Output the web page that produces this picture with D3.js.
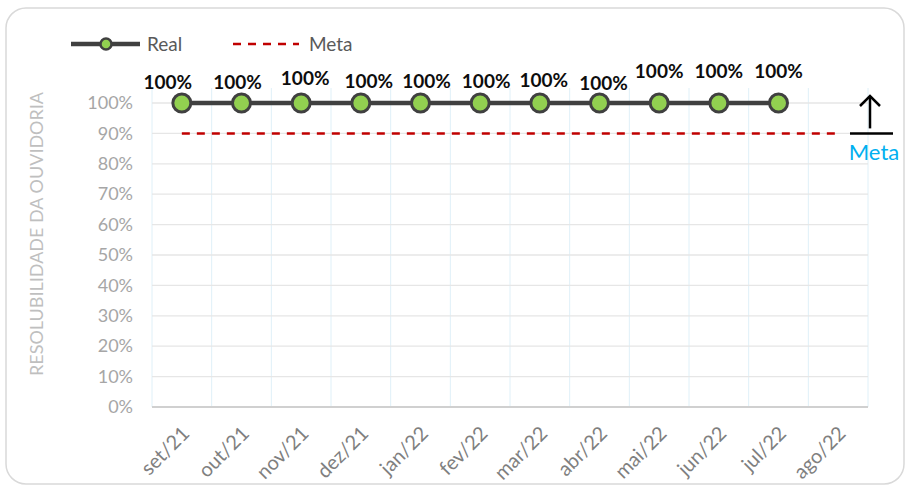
<!DOCTYPE html>
<html><head><meta charset="utf-8">
<script src="https://cdn.jsdelivr.net/npm/d3@7"></script>
<style>body{margin:0;background:#fff}svg{display:block}</style>
</head><body>
<script>
const categories = ["set/21","out/21","nov/21","dez/21","jan/22","fev/22","mar/22","abr/22","mai/22","jun/22","jul/22","ago/22"];
const realValues = [1,1,1,1,1,1,1,1,1,1,1,null];
const metaValues = [0.9,0.9,0.9,0.9,0.9,0.9,0.9,0.9,0.9,0.9,0.9,0.9];
const yTicks = [0,0.1,0.2,0.3,0.4,0.5,0.6,0.7,0.8,0.9,1.0];
const labelDx = [-14,-4,4,8,6,6,4,4,0,0,0];
const labelDy = [0,0,-4,-1,-1,-1,-2,1,-11,-11,-11];

const W=908,H=489;
const svg=d3.select("body").append("svg").attr("width",W).attr("height",H);
const font="Lato, 'Open Sans', sans-serif";
svg.append("rect").attr("x",6).attr("y",8).attr("width",898).attr("height",476).attr("rx",20)
  .attr("fill","#fff").attr("stroke","#d9d9d9").attr("stroke-width",1.5);

const x=d3.scaleBand().domain(categories).range([152,868]);
const y=d3.scaleLinear().domain([0,1]).range([407,103]);
const cx=d=>x(d)+x.bandwidth()/2;

// vertical gridlines
const g=svg.append("g");
d3.range(categories.length+1).forEach(i=>{
  const xx=152+i*x.bandwidth();
  g.append("line").attr("x1",xx).attr("x2",xx).attr("y1",88).attr("y2",407)
   .attr("stroke","#dff0f8").attr("stroke-width",1);
});
// horizontal gridlines
yTicks.forEach(t=>{
  g.append("line").attr("x1",152).attr("x2",868).attr("y1",y(t)).attr("y2",y(t))
   .attr("stroke",t===0?"#d0d0d0":"#e6e6e6").attr("stroke-width",t===0?2:1.3);
});

// y axis labels
const yAxis=d3.axisLeft(y).tickValues(yTicks).tickFormat(d3.format(".0%")).tickSize(0).tickPadding(0);
const ya=svg.append("g").attr("transform","translate(133,0)").call(yAxis);
ya.select(".domain").remove();
ya.selectAll("text").attr("font-family",font).attr("font-size",18).attr("fill","#a6a6a6");

// x axis labels
const xAxis=d3.axisBottom(x).tickSize(0).tickPadding(0);
const xa=svg.append("g").call(xAxis);
xa.select(".domain").remove();
xa.selectAll(".tick").attr("transform",d=>`translate(${cx(d)-1},425)`);
xa.selectAll("text").attr("font-family",font).attr("font-size",20).attr("fill","#7f7f7f")
  .attr("text-anchor","end").attr("dy","0.7em").attr("transform","rotate(-45)");

// y title
svg.append("text").attr("transform","translate(43,234) rotate(-90)").attr("text-anchor","middle")
  .attr("font-family",font).attr("font-size",18).attr("fill","#bfbfbf").text("RESOLUBILIDADE DA OUVIDORIA");

// Meta line
const metaLine=d3.line().x((d,i)=>cx(categories[i])).y(d=>y(d));
svg.append("path").datum(metaValues).attr("d",metaLine).attr("fill","none")
  .attr("stroke","#c00000").attr("stroke-width",2.5).attr("stroke-dasharray","8,7");

// Real line
const realData=realValues.map((v,i)=>({c:categories[i],v})).filter(d=>d.v!=null);
const realLine=d3.line().x(d=>cx(d.c)).y(d=>y(d.v));
svg.append("path").datum(realData).attr("d",realLine).attr("fill","none")
  .attr("stroke","#404040").attr("stroke-width",4.5);
svg.selectAll(".pt").data(realData).enter().append("circle")
  .attr("cx",d=>cx(d.c)).attr("cy",d=>y(d.v)).attr("r",9)
  .attr("fill","#92d050").attr("stroke","#404040").attr("stroke-width",3);
svg.selectAll(".lbl").data(realData).enter().append("text")
  .attr("x",(d,i)=>cx(d.c)+labelDx[i]).attr("y",(d,i)=>y(d.v)-14+labelDy[i])
  .attr("text-anchor","middle").attr("font-family",font).attr("font-weight","bold")
  .attr("font-size",19).attr("fill","#0d0d0d").text(d=>d3.format(".0%")(d.v));

// Meta annotation: bar + arrow
const ax=870, my=y(0.9);
svg.append("line").attr("x1",850).attr("x2",893).attr("y1",my).attr("y2",my).attr("stroke","#000").attr("stroke-width",2.5);
svg.append("line").attr("x1",ax).attr("x2",ax).attr("y1",my-5).attr("y2",y(1)-7).attr("stroke","#000").attr("stroke-width",2.5);
svg.append("path").attr("d",`M${ax-10},${y(1)+3} L${ax},${y(1)-7} L${ax+10},${y(1)+3}`)
  .attr("fill","none").attr("stroke","#000").attr("stroke-width",2.5);
svg.append("text").attr("x",874).attr("y",160).attr("text-anchor","middle")
  .attr("font-family",font).attr("font-size",22).attr("fill","#00b0f0").text("Meta");

// Legend
const lg=svg.append("g");
lg.append("line").attr("x1",71).attr("x2",140).attr("y1",44).attr("y2",44).attr("stroke","#404040").attr("stroke-width",4.5);
lg.append("circle").attr("cx",106).attr("cy",44).attr("r",5.5).attr("fill","#92d050").attr("stroke","#404040").attr("stroke-width",2.5);
lg.append("text").attr("x",147).attr("y",51).attr("font-family",font).attr("font-size",19).attr("fill","#595959").text("Real");
lg.append("line").attr("x1",233).attr("x2",299).attr("y1",44).attr("y2",44).attr("stroke","#c00000").attr("stroke-width",2.5).attr("stroke-dasharray","8,7");
lg.append("text").attr("x",309).attr("y",51).attr("font-family",font).attr("font-size",19).attr("fill","#595959").text("Meta");
</script>
</body></html>
